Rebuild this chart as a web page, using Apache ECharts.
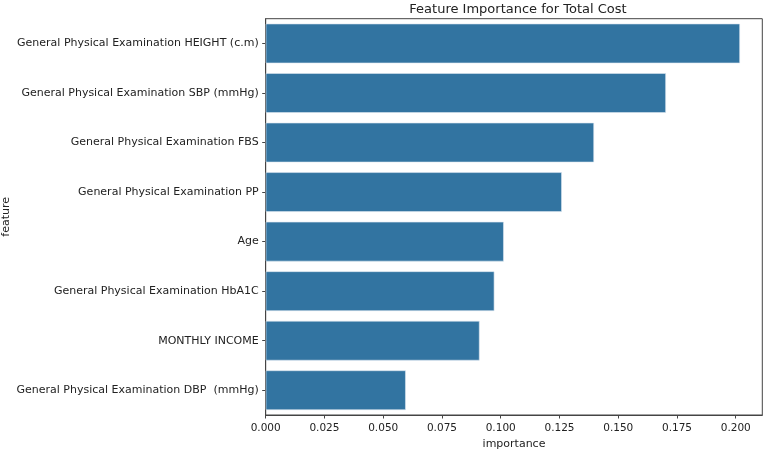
<!DOCTYPE html>
<html><head><meta charset="utf-8">
<script src="https://cdn.jsdelivr.net/npm/echarts@6/dist/echarts.min.js"></script>
<style>html,body{margin:0;padding:0;background:#fff}#c{width:767px;height:451px}</style>
</head><body><div id="c"></div>
<script>
var categories = [
  "General Physical Examination HEIGHT (c.m)",
  "General Physical Examination SBP (mmHg)",
  "General Physical Examination FBS",
  "General Physical Examination PP",
  "Age",
  "General Physical Examination HbA1C",
  "MONTHLY INCOME",
  "General Physical Examination DBP  (mmHg)"
];
var importance = [0.2018, 0.1703, 0.1397, 0.1260, 0.1013, 0.0973, 0.0910, 0.0596];
var xTicks = [0, 0.025, 0.05, 0.075, 0.1, 0.125, 0.15, 0.175, 0.2];

var chart = echarts.init(document.getElementById('c'), null, {renderer: 'canvas'});
var font = 'DejaVu Sans';
chart.setOption({
  animation: false,
  title: {
    text: 'Feature Importance for Total Cost',
    left: 513, top: -2, textAlign: 'center',
    textStyle: {fontFamily: font, fontSize: 13, fontWeight: 'normal', color: '#222'}
  },
  grid: {left: 265.7, right: 4.7, top: 18.7, bottom: 36, outerBoundsMode: 'none', containLabel: false,
         show: true, borderColor: '#444', borderWidth: 1, backgroundColor: 'transparent'},
  xAxis: {
    type: 'value', min: 0, max: 0.2113, interval: 0.025,
    name: 'importance', nameLocation: 'middle', nameGap: 24,
    nameTextStyle: {fontFamily: font, fontSize: 11, color: '#222'},
    axisLine: {show: true, lineStyle: {color: '#444'}},
    axisTick: {show: true, length: 3.5, lineStyle: {color: '#444'}},
    splitLine: {show: false},
    axisLabel: {
      fontFamily: font, fontSize: 10.5, color: '#222', margin: 8,
      showMaxLabel: false,
      formatter: function (v) {
        for (var i = 0; i < xTicks.length; i++) if (Math.abs(v - xTicks[i]) < 1e-9) return xTicks[i].toFixed(3);
        return '';
      }
    }
  },
  yAxis: {
    type: 'category', data: categories, inverse: true,
    name: 'feature', nameLocation: 'middle', nameGap: 254, nameRotate: 90, nameMoveOverlap: false,
    nameTextStyle: {fontFamily: font, fontSize: 11, color: '#222'},
    axisLine: {show: true, lineStyle: {color: '#444'}},
    axisTick: {show: true, alignWithLabel: true, length: 3.5, lineStyle: {color: '#444'}},
    axisLabel: {fontFamily: font, fontSize: 11, color: '#222', margin: 7}
  },
  series: [{
    type: 'bar', data: importance, barCategoryGap: '20%',
    itemStyle: {color: '#3274a1', borderColor: '#dbe6f0', borderWidth: 0.6}
  }]
});
</script>
</body></html>
